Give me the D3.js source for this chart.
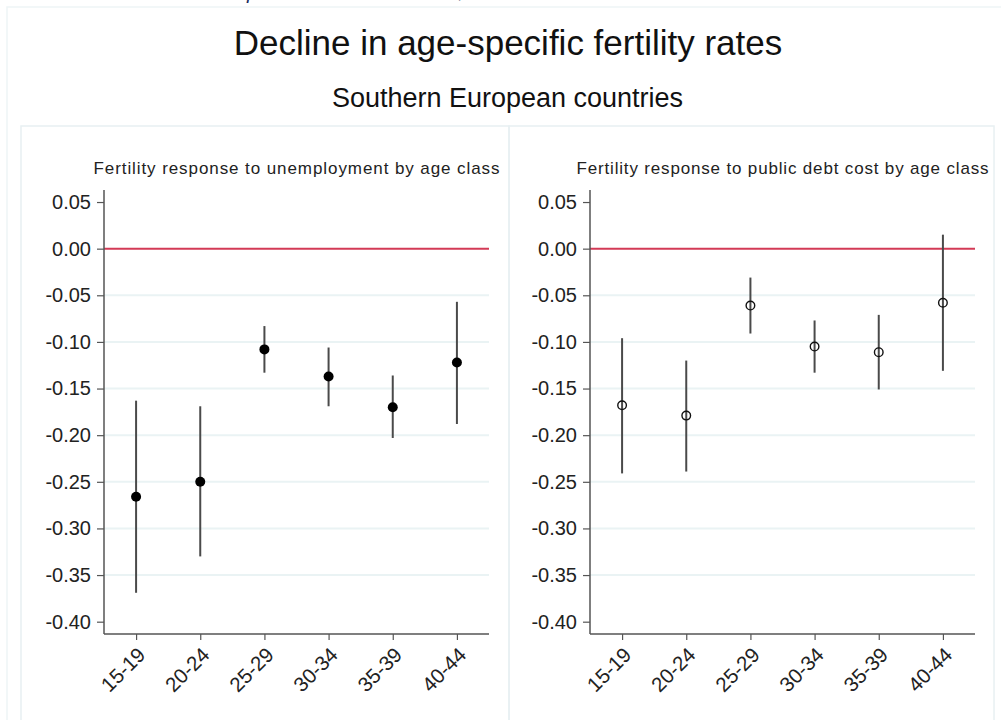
<!DOCTYPE html>
<html>
<head>
<meta charset="utf-8">
<script src="https://cdn.jsdelivr.net/npm/d3@7/dist/d3.min.js"></script>
<style>
  html, body { margin: 0; padding: 0; background: #fff; }
  svg { display: block; }
  text { font-family: "Liberation Sans", Arial, Helvetica, sans-serif; }
</style>
</head>
<body>
<svg id="chart" width="1001" height="720"></svg>
<script>
// ---------- data ----------
const categories = ["15-19", "20-24", "25-29", "30-34", "35-39", "40-44"];

const unempEst   = [-0.266, -0.250, -0.108, -0.137, -0.170, -0.122];
const unempLow   = [-0.369, -0.330, -0.133, -0.169, -0.203, -0.188];
const unempHigh  = [-0.163, -0.169, -0.083, -0.106, -0.136, -0.057];

const debtEst    = [-0.168, -0.179, -0.061, -0.105, -0.111, -0.058];
const debtLow    = [-0.241, -0.239, -0.091, -0.133, -0.151, -0.131];
const debtHigh   = [-0.096, -0.120, -0.031, -0.077, -0.071, 0.015];

const yTicks      = [0.05, 0.00, -0.05, -0.10, -0.15, -0.20, -0.25, -0.30, -0.35, -0.40];
const yTickLabels = ["0.05", "0.00", "-0.05", "-0.10", "-0.15", "-0.20", "-0.25", "-0.30", "-0.35", "-0.40"];
const gridTicks   = [-0.05, -0.10, -0.15, -0.20, -0.25, -0.30, -0.35];

const mainTitle = "Decline in age-specific fertility rates";
const subTitle  = "Southern European countries";
const panelTitles = ["Fertility response to unemployment by age class",
                     "Fertility response to public debt cost by age class"];

// ---------- drawing ----------
const svg = d3.select("#chart");
svg.append("rect").attr("width", 1001).attr("height", 720).attr("fill", "#fff");

// fragment of page text above (cut off in the reference too)
svg.append("text").attr("x", 247).attr("y", -1).attr("font-family", "Liberation Serif")
  .attr("font-style", "italic").attr("font-size", 20).attr("fill", "#1c2b5e").text("p");
svg.append("text").attr("x", 457).attr("y", -2).attr("font-family", "Liberation Serif")
  .attr("font-size", 20).attr("fill", "#1c2b5e").text(",");

// outer frame lines
svg.append("path").attr("d", "M7,730 L7,7 L1010,7").attr("fill", "none")
  .attr("stroke", "#eef5f6").attr("stroke-width", 1.5);

svg.append("text").attr("x", 508).attr("y", 55).attr("text-anchor", "middle")
  .attr("font-size", 35).attr("fill", "#111").text(mainTitle);
svg.append("text").attr("x", 507.5).attr("y", 107).attr("text-anchor", "middle")
  .attr("font-size", 27).attr("fill", "#111").text(subTitle);

const panels = [
  { frame: [21, 509], plot: [104, 489], est: unempEst, lo: unempLow, hi: unempHigh, filled: true,  title: panelTitles[0], tlen: 406 },
  { frame: [509, 994], plot: [590, 975], est: debtEst, lo: debtLow, hi: debtHigh, filled: false, title: panelTitles[1], tlen: 412 }
];

const yTop = 190, yBot = 634;
const y = d3.scaleLinear().domain([-0.4132, 0.0629]).range([yBot, yTop]);

panels.forEach(p => {
  const g = svg.append("g");
  g.append("rect").attr("x", p.frame[0]).attr("y", 126)
    .attr("width", p.frame[1] - p.frame[0]).attr("height", 620)
    .attr("fill", "none").attr("stroke", "#e8f0f2").attr("stroke-width", 1.5);

  const x = d3.scalePoint().domain(categories).range(p.plot).padding(0.5);

  // gridlines
  g.selectAll(".grid").data(gridTicks).join("line")
    .attr("x1", p.plot[0]).attr("x2", p.plot[1])
    .attr("y1", d => y(d)).attr("y2", d => y(d))
    .attr("stroke", "#eaf3f4").attr("stroke-width", 2);

  // zero line
  g.append("line").attr("x1", p.plot[0]).attr("x2", p.plot[1])
    .attr("y1", y(0)).attr("y2", y(0))
    .attr("stroke", "#d33a56").attr("stroke-width", 2);

  // y axis
  const ya = g.append("g").attr("transform", `translate(${p.plot[0]},0)`)
    .call(d3.axisLeft(y).tickValues(yTicks).tickSize(7).tickPadding(6)
      .tickFormat((d, i) => yTickLabels[i]));
  ya.select(".domain").attr("d", `M0,${yTop}V${yBot}`).attr("stroke", "#555").attr("stroke-width", 1.5);
  ya.selectAll(".tick line").attr("stroke", "#555").attr("stroke-width", 1.2);
  ya.selectAll(".tick text").attr("font-size", 20).attr("fill", "#222")
    .attr("font-family", "Liberation Sans, Arial, sans-serif");

  // x axis
  const xa = g.append("g").attr("transform", `translate(0,${yBot})`)
    .call(d3.axisBottom(x).tickSize(6).tickSizeOuter(0));
  xa.select(".domain").attr("d", `M${p.plot[0]},0H${p.plot[1]}`).attr("stroke", "#555").attr("stroke-width", 1.5);
  xa.selectAll(".tick line").attr("stroke", "#555").attr("stroke-width", 1.2);
  xa.selectAll(".tick text")
    .attr("font-size", 20.5).attr("fill", "#222")
    .attr("font-family", "Liberation Sans, Arial, sans-serif")
    .attr("text-anchor", "end")
    .attr("x", 0).attr("y", 0).attr("dy", "0.35em")
    .attr("transform", "translate(5,17) rotate(-45)");

  // panel title
  g.append("text").attr("x", (p.plot[0] + p.plot[1]) / 2).attr("y", 174)
    .attr("text-anchor", "middle").attr("font-size", 17).attr("fill", "#222")
    .attr("textLength", p.tlen).attr("lengthAdjust", "spacing").text(p.title);

  // CIs
  g.selectAll(".ci").data(categories).join("line")
    .attr("x1", d => x(d)).attr("x2", d => x(d))
    .attr("y1", (d, i) => y(p.hi[i])).attr("y2", (d, i) => y(p.lo[i]))
    .attr("stroke", "#4a4a4a").attr("stroke-width", 2);

  // points
  g.selectAll(".pt").data(categories).join("circle")
    .attr("cx", d => x(d)).attr("cy", (d, i) => y(p.est[i]))
    .attr("r", p.filled ? 5 : 4.3)
    .attr("fill", p.filled ? "#000" : "none")
    .attr("stroke", "#111").attr("stroke-width", p.filled ? 0 : 1.4);
});
</script>
</body>
</html>
